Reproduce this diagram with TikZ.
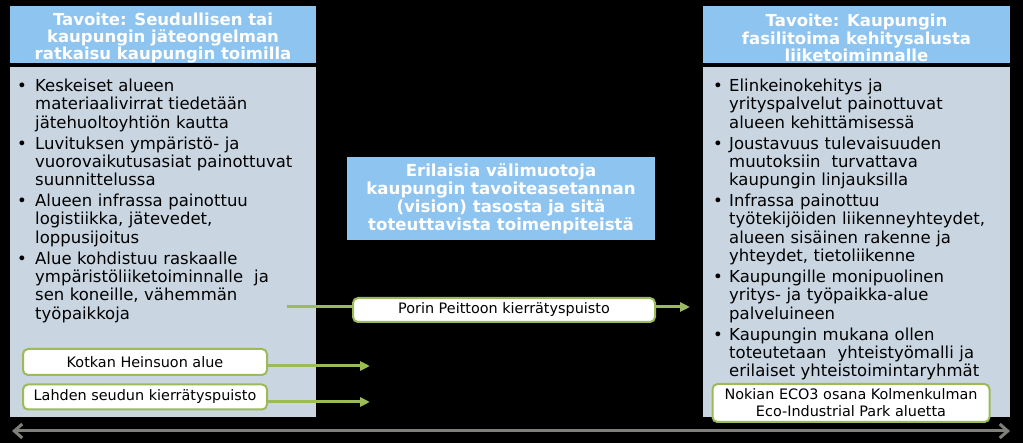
\documentclass[tikz,border=0pt]{standalone}
\usepackage{fontspec}
\setmainfont{DejaVu Sans}
\usetikzlibrary{arrows.meta}
\definecolor{hdrblue}{RGB}{142,196,240}
\definecolor{bodygray}{RGB}{201,214,226}
\definecolor{grn}{RGB}{155,187,89}
\definecolor{axisgray}{RGB}{128,128,122}
\newlength\hangw
\newcommand\bitem[1]{\hangindent=\hangw\hangafter=1\noindent\makebox[\hangw][l]{•}#1\par}
\begin{document}
\begin{tikzpicture}[x=1pt,y=-1pt,
 hdr/.style={fill=hdrblue, draw=none, inner sep=0},
 hdrtext/.style={text=white, font=\fontsize{16.5}{17.2}\selectfont\bfseries, align=center, inner sep=0},
 panel/.style={fill=bodygray, draw=none, inner sep=0},
 bullets/.style={anchor=base west, inner sep=0, text width=300pt, font=\fontsize{16.5}{18.3}\selectfont, align=left},
 tag/.style={draw=grn, line width=2pt, fill=white, rounded corners=5pt, inner sep=0, font=\fontsize{14.4}{17}\selectfont, align=center},
 flow/.style={draw=grn, line width=3pt, -{Triangle[length=10pt,width=9pt]}},
 link/.style={draw=grn, line width=3pt},
 axis/.style={draw=axisgray, line width=3pt, {Straight Barb[length=8pt,width=14pt]}-{Straight Barb[length=8pt,width=14pt]}},
]
\fill[black] (0,0) rectangle (1023,443);
% headers
\node[hdr, minimum width=306, minimum height=57] (lh) at (163,34.5) {};
\node[hdrtext] (lht) at ([yshift=-3.5pt]lh.center) {Tavoite: Seudullisen tai\\kaupungin jäteongelman\\ratkaisu kaupungin toimilla};
\node[hdr, minimum width=307, minimum height=57] (rh) at (856.5,34.5) {};
\node[hdrtext] (rht) at ([yshift=-3.5pt]rh.center) {Tavoite: Kaupungin\\fasilitoima kehitysalusta\\liiketoiminnalle};
% panels
\node[panel, minimum width=306, minimum height=350] (lb) at (163,242) {};
\node[panel, minimum width=307, minimum height=350] (rb) at (856.5,242) {};
% left bullets
\node[bullets] (lt) at (17,91.5) {\setlength{\parskip}{2.7pt}\setlength{\hangw}{18pt}%
\bitem{Keskeiset alueen\newline materiaalivirrat tiedetään\newline jätehuoltoyhtiön kautta}%
\bitem{Luvituksen ympäristö- ja\newline vuorovaikutusasiat painottuvat\newline suunnittelussa}%
\bitem{Alueen infrassa painottuu\newline logistiikka, jätevedet,\newline loppusijoitus}%
\bitem{Alue kohdistuu raskaalle\newline ympäristöliiketoiminnalle\ \ ja\newline sen koneille, vähemmän\newline työpaikkoja}};
% right bullets
\node[bullets] (rt) at (713,91.5) {\setlength{\parskip}{2.7pt}\setlength{\hangw}{16pt}%
\bitem{Elinkeinokehitys ja\newline yrityspalvelut painottuvat\newline alueen kehittämisessä}%
\bitem{Joustavuus tulevaisuuden\newline muutoksiin\ \ turvattava\newline kaupungin linjauksilla}%
\bitem{Infrassa painottuu\newline työtekijöiden liikenneyhteydet,\newline alueen sisäinen rakenne ja\newline yhteydet, tietoliikenne}%
\bitem{Kaupungille monipuolinen\newline yritys- ja työpaikka-alue\newline palveluineen}%
\bitem{Kaupungin mukana ollen\newline toteutetaan\ \ yhteistyömalli ja\newline erilaiset yhteistoimintaryhmät}};
% middle
\node[hdr, minimum width=308, minimum height=83] (mid) at (501,198.5) {};
\node[hdrtext, font=\fontsize{16.6}{17.9}\selectfont\bfseries] (midt) at ([yshift=-0.5pt]mid.center) {Erilaisia välimuotoja\\kaupungin tavoiteasetannan\\(vision) tasosta ja sitä\\toteuttavista toimenpiteistä};
% tags
\node[tag, minimum width=302, minimum height=24] (porin) at (504,310) {Porin Peittoon kierrätyspuisto};
\node[tag, minimum width=244, minimum height=26] (kotkan) at (145,362) {Kotkan Heinsuon alue};
\node[tag, minimum width=244, minimum height=25] (lahden) at (145,397) {Lahden seudun kierrätyspuisto};
\node[tag, minimum width=277, minimum height=38] (nokian) at (851,403) {Nokian ECO3 osana Kolmenkulman\\Eco-Industrial Park aluetta};
% connectors
\coordinate (ps) at (287,307);
\coordinate (pe) at (690,307);
\coordinate (ke) at (370,366);
\coordinate (le) at (370,402);
\draw[link] (ps) -- (porin.west |- ps);
\draw[flow] (porin.east |- pe) -- (pe);
\draw[flow] (kotkan.east |- ke) -- (ke);
\draw[flow] (lahden.east |- le) -- (le);
% axis
\coordinate (al) at (12,431);
\coordinate (ar) at (1010,431);
\draw[axis] (al) -- (ar);
\end{tikzpicture}
\end{document}
